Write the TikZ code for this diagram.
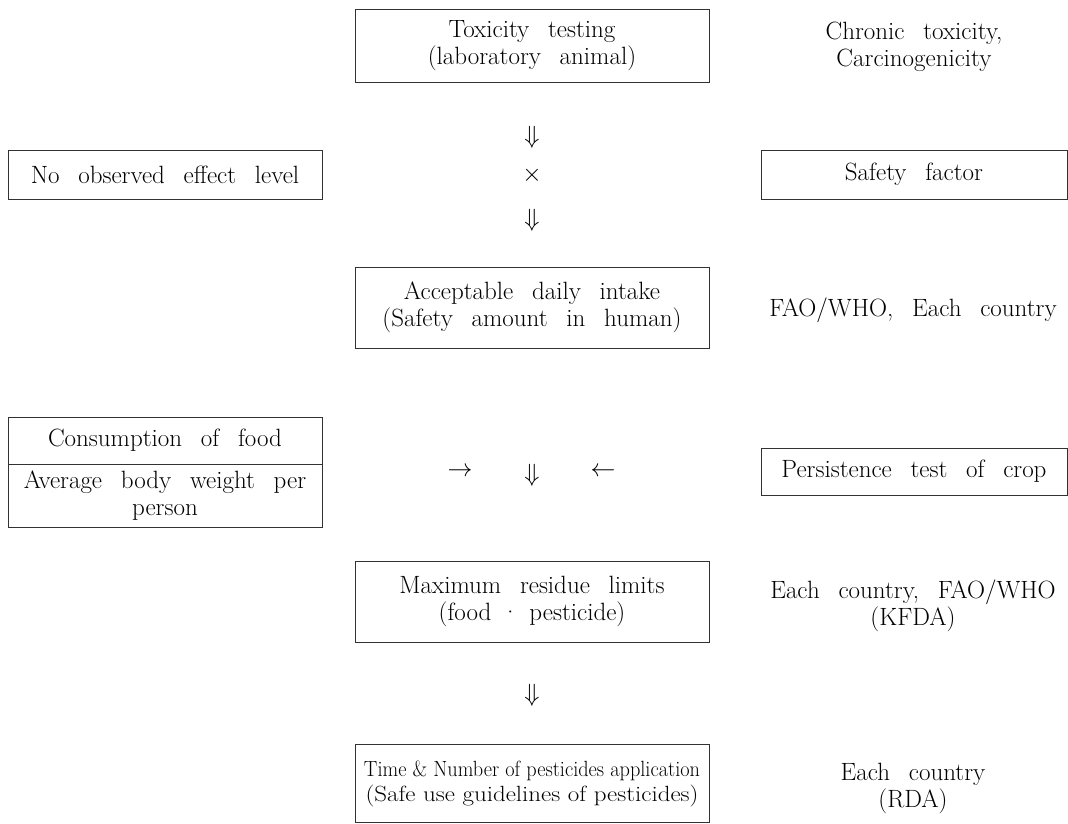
\documentclass[tikz,border=0pt]{standalone}
\usepackage{fontspec}
\usepackage{graphicx}
\usetikzlibrary{positioning}
\definecolor{inkc}{RGB}{0,0,0}
\definecolor{edgec}{RGB}{50,50,50}
\newcommand{\loose}{\spaceskip=0.75em plus 0.1em minus 0.1em\relax}
\newcommand{\squeeze}[2]{\resizebox{#1}{\height}{#2}}
\tikzset{
  txt/.style={
    font=\fontsize{25}{27}\selectfont\loose, text=inkc,
    align=center, inner sep=0pt
  },
  box/.style={
    txt, rectangle, draw=edgec, line width=0.9pt
  },
  midbox/.style={box, minimum width=354pt, minimum height=81pt},
  sidebox/.style={box, minimum width=306pt, minimum height=49pt},
  leftbox/.style={box, minimum width=314pt},
  sym/.style={font=\fontsize{25}{27}\selectfont, text=inkc, inner sep=0pt},
}

\begin{document}
\begin{tikzpicture}[x=1pt, y=-1pt]
  \useasboundingbox (0,0) rectangle (1068,823);

  % main column
  \node[midbox, minimum height=73pt] (toxtest) at (532,45.5)
    {Toxicity testing\\(laboratory animal)};
  \node[midbox] (adi) at (532,307.5)
    {Acceptable daily intake\\(Safety amount in human)};
  \node[midbox] (mrl) at (532,601.5)
    {Maximum residue limits\\{\spaceskip=0.4em\relax(food · pesticide)}};
  \node[midbox, minimum height=78pt, font=\fontsize{22}{25}\selectfont] (useguide) at (532,783.5)
    {\squeeze{336pt}{Time \& Number of pesticides application}\\
     \squeeze{333pt}{(Safe use guidelines of pesticides)}};

  % left column
  \node[leftbox, minimum height=49pt] (noel) at (165,174.5) {No observed effect level};
  \node[leftbox, minimum height=47pt] (consume) at (165,440.5) {Consumption of food};
  \node[leftbox, minimum height=63pt] (bodywt) at (165,495.5)
    {Average body weight per\\person};

  % right column
  \node[txt] (chronic) at (914,47) {Chronic toxicity,\\Carcinogenicity};
  \node[sidebox] (safety) at (914,174.5) {Safety factor};
  \node[txt] (faowho) at (913,310) {FAO/WHO, Each country};
  \node[sidebox, minimum height=47pt] (persist) at (914,471.5) {Persistence test of crop};
  \node[txt] (kfda) at (913,606) {Each country, FAO/WHO\\(KFDA)};
  \node[txt] (rda) at (913,788) {Each country\\(RDA)};

  % the marks between the boxes
  \node[sym] (down1) at (532,137) {$\Downarrow$};
  \node[sym] (times) at (532,175) {$\times$};
  \node[sym] (down2) at (532,220) {$\Downarrow$};
  \node[sym] (inright) at (460,472) {$\rightarrow$};
  \node[sym] (down3) at (532,475) {$\Downarrow$};
  \node[sym] (inleft) at (603,472) {$\leftarrow$};
  \node[sym] (down4) at (532,695) {$\Downarrow$};

\end{tikzpicture}
\end{document}
